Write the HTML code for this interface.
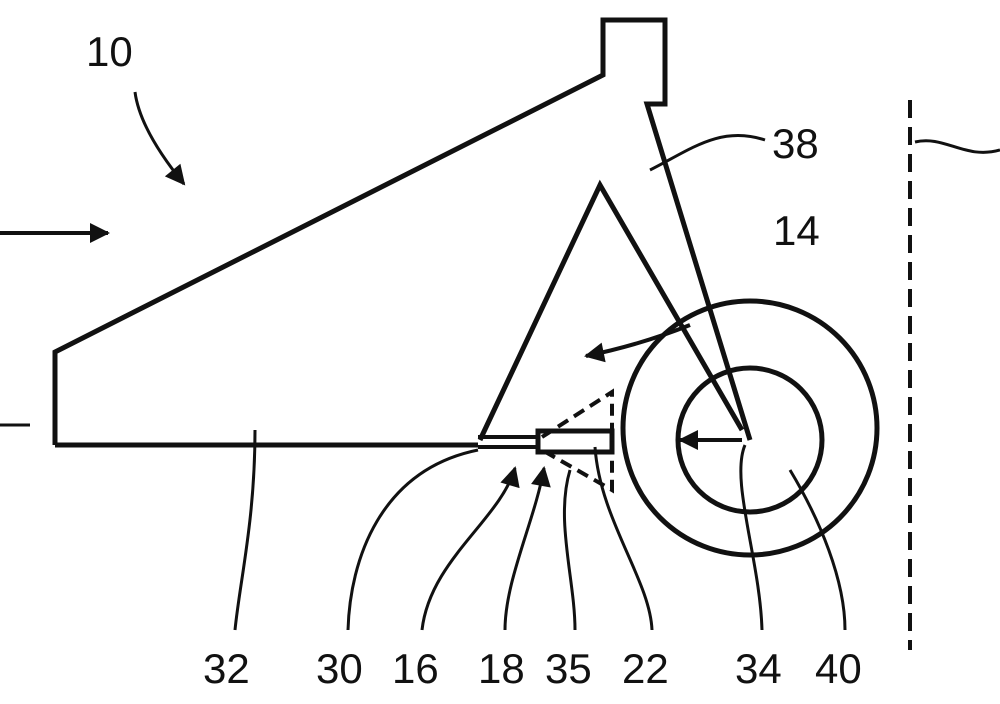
<!DOCTYPE html>
<html><head><style>body{margin:0;background:#fff}svg{display:block}text{font-family:"Liberation Sans",sans-serif;font-size:42px;fill:#111}</style></head>
<body>
<svg width="1000" height="704" viewBox="0 0 1000 704" fill="none" stroke="#111" stroke-width="5" stroke-linejoin="miter">
<defs><marker id="a" viewBox="0 0 10 10" refX="9" refY="5" markerWidth="24" markerHeight="20" markerUnits="userSpaceOnUse" orient="auto"><path d="M0,0L10,5L0,10z" fill="#111" stroke="none"/></marker></defs>
<path d="M55,445 L55,352 L603,75 L603,20 L665,20 L665,104 L647,104 L750,440"/>
<path d="M478,445 L55,445"/>
<path d="M480,440 L600,185 L742,430"/>
<path d="M478,437 L540,437 M478,447 L540,447" stroke-width="4"/>
<rect x="538" y="431" width="74" height="21" stroke-width="5"/>
<path d="M542,437 L612,392 L612,490 L542,450" stroke-dasharray="12,7" stroke-width="4"/>
<circle cx="750" cy="428" r="127"/>
<circle cx="750" cy="440" r="72"/>
<path d="M742,440 L680,440" stroke-width="4" marker-end="url(#a)"/>
<path d="M690,325 Q640,345 586,356" stroke-width="4" marker-end="url(#a)"/>
<path d="M0,233 L108,233" stroke-width="4" marker-end="url(#a)"/>
<path d="M0,425 L30,425" stroke-width="3"/>
<path d="M135,92 Q140,130 184,184" stroke-width="3" marker-end="url(#a)"/>
<path d="M910,100 L910,650" stroke-dasharray="18,9" stroke-width="4"/>
<path d="M915,142 C945,135 965,160 1000,150" stroke-width="3"/>
<path d="M650,170 C690,150 720,125 765,140" stroke-width="3"/>
<g stroke-width="3">
<path d="M255,430 C255,520 240,580 235,630"/>
<path d="M478,450 C380,470 350,560 348,630"/>
<path d="M422,630 C430,560 500,520 515,468" marker-end="url(#a)"/>
<path d="M505,630 C505,580 535,520 544,468" marker-end="url(#a)"/>
<path d="M570,470 C555,520 575,580 575,630"/>
<path d="M595,447 C600,520 650,580 652,630"/>
<path d="M745,445 C730,480 760,560 762,630"/>
<path d="M790,470 C820,520 845,580 845,630"/>
</g>
<text x="86" y="66" stroke="none">10</text>
<text x="772" y="158" stroke="none">38</text>
<text x="773" y="245" stroke="none">14</text>
<text x="203" y="683" stroke="none">32</text>
<text x="316" y="683" stroke="none">30</text>
<text x="392" y="683" stroke="none">16</text>
<text x="478" y="683" stroke="none">18</text>
<text x="545" y="683" stroke="none">35</text>
<text x="622" y="683" stroke="none">22</text>
<text x="735" y="683" stroke="none">34</text>
<text x="815" y="683" stroke="none">40</text>
</svg>
</body></html>
